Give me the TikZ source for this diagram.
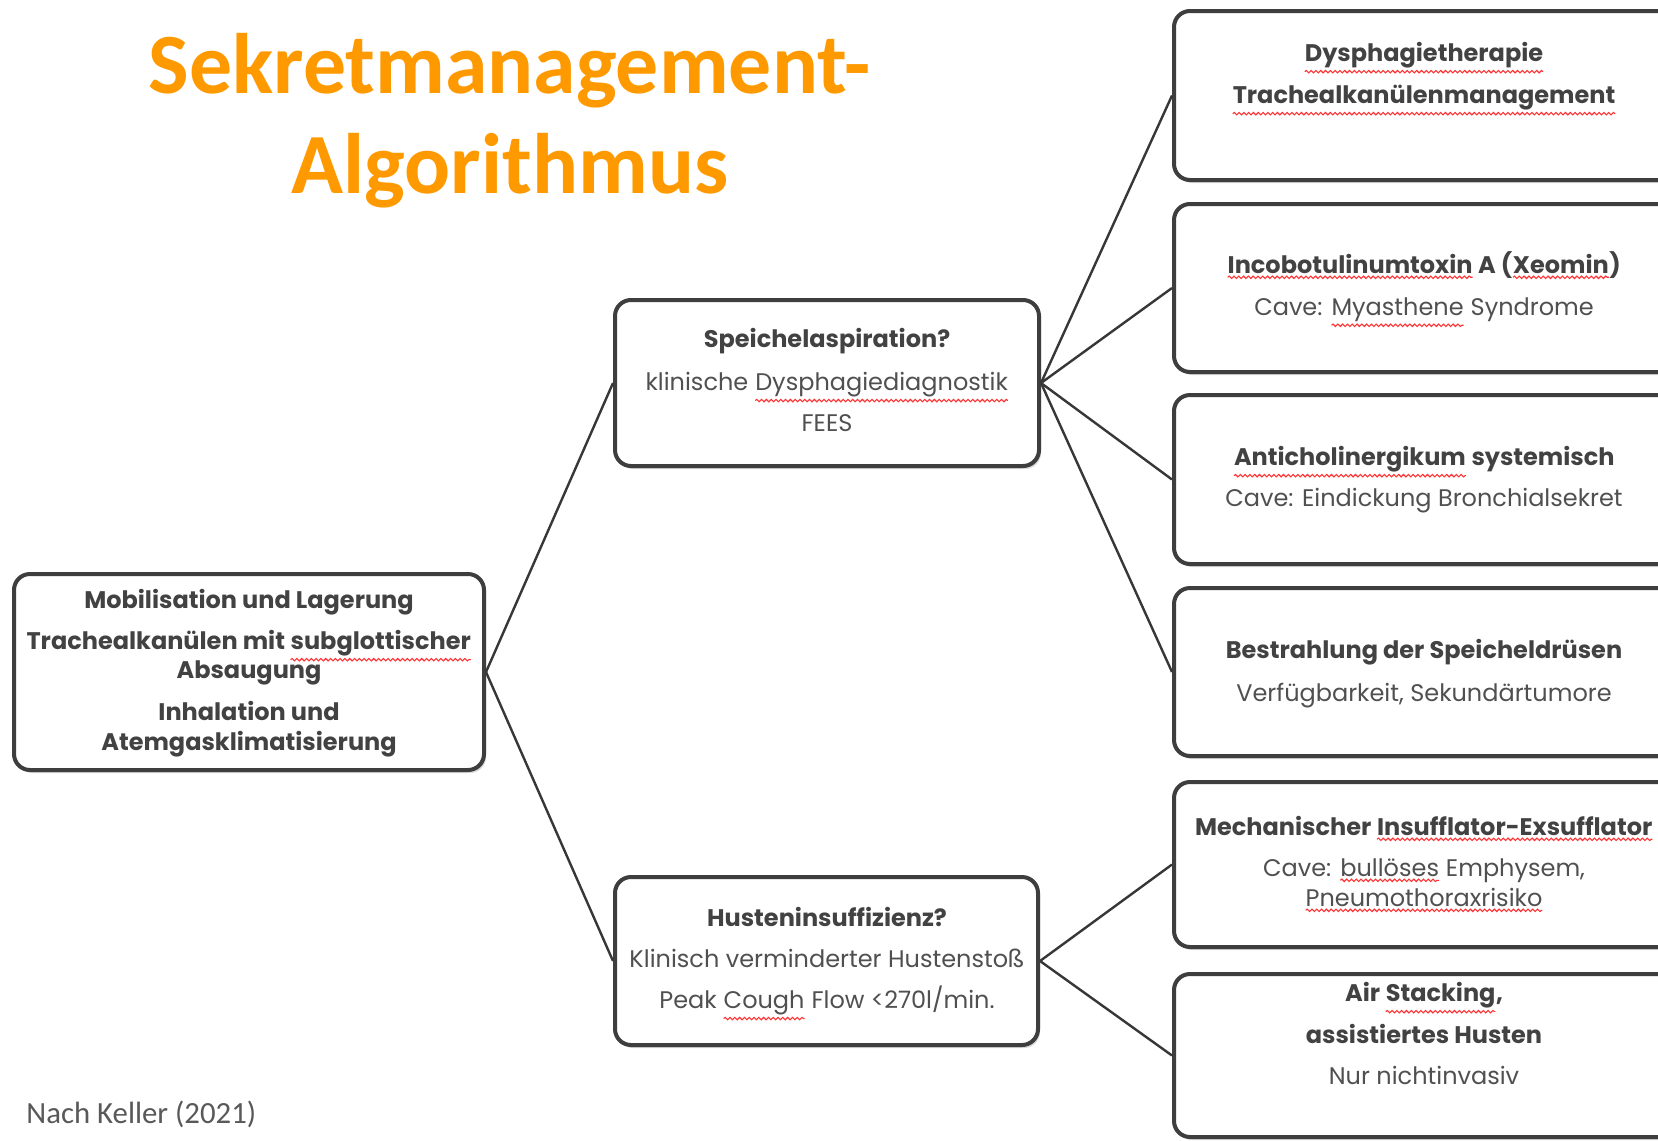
\documentclass[tikz,border=0pt]{standalone}
\usepackage{fontspec}
\setmainfont{Poppins}
\newfontfamily\titlefont{Carlito}
\usetikzlibrary{shadows,decorations.pathmorphing}
\definecolor{orng}{RGB}{255,153,0}
\definecolor{bord}{RGB}{62,62,62}
\definecolor{txt}{RGB}{66,66,66}
\definecolor{txtr}{RGB}{80,80,80}
\definecolor{conn}{RGB}{55,55,55}
\definecolor{foot}{RGB}{89,89,89}
\newcommand\sq[1]{\tikz[baseline=(sqw.base)]{\node[inner sep=0pt,outer sep=0pt](sqw){#1};\draw[red!80,line width=0.55pt,decorate,decoration={snake,amplitude=0.6pt,segment length=2.4pt}]([yshift=-1.8pt]sqw.south west)--([yshift=-1.8pt]sqw.south east);}}
\begin{document}
\begin{tikzpicture}[x=0.5pt,y=-0.5pt,
  box/.style={draw=bord,line width=2pt,rounded corners=8pt,fill=white,
    drop shadow={opacity=0.3,shadow xshift=1pt,shadow yshift=-1.5pt},inner sep=0pt},
  conn/.style={draw=conn,line width=1.2pt},
  bt/.style={font=\bfseries\fontsize{12}{14}\selectfont,text=txt,inner sep=0pt,anchor=mid},
  rt/.style={font=\fontsize{12}{14}\selectfont,text=txtr,inner sep=0pt,anchor=mid},
  ttl/.style={font=\titlefont\bfseries\fontsize{42.9}{50}\selectfont,text=orng,inner sep=0pt,anchor=mid}]
\useasboundingbox[fill=white] (0,0) rectangle (1658,1140);
\clip (0,0) rectangle (1658,1140);

% title
\node[ttl] (T1) at (510,88) {Sekretmanagement-};
\node[ttl] (T2) at (510,188) {Algorithmus};

% boxes
\node[box,minimum width=235pt,minimum height=98pt] (L) at (249,672) {};
\node[box,minimum width=212pt,minimum height=83pt] (S) at (827,383) {};
\node[box,minimum width=211.5pt,minimum height=84pt] (H) at (826.5,961) {};
\node[box,minimum width=251pt,minimum height=84.5pt] (R1) at (1425,95.5) {};
\node[box,minimum width=251pt,minimum height=84pt] (R2) at (1425,288) {};
\node[box,minimum width=251pt,minimum height=84.5pt] (R3) at (1425,479.5) {};
\node[box,minimum width=251pt,minimum height=84pt] (R4) at (1425,672) {};
\node[box,minimum width=251pt,minimum height=82.5pt] (R5) at (1425,864.5) {};
\node[box,minimum width=251pt,minimum height=81.5pt] (R6) at (1425,1055.5) {};

% connectors
\draw[conn] (L.east) -- (S.west);
\draw[conn] (L.east) -- (H.west);
\draw[conn] (S.east) -- (R1.west);
\draw[conn] (S.east) -- (R2.west);
\draw[conn] (S.east) -- (R3.west);
\draw[conn] (S.east) -- (R4.west);
\draw[conn] (H.east) -- (R5.west);
\draw[conn] (H.east) -- (R6.west);

% left box text
\node[bt] (l1) at (249,603) {Mobilisation und Lagerung};
\node[bt] (l2) at (249,644) {Trachealkanülen mit \sq{subglottischer}};
\node[bt] (l3) at (249,673) {Absaugung};
\node[bt] (l4) at (249,715) {Inhalation und};
\node[bt] (l5) at (249,745) {Atemgasklimatisierung};

% Speichel box text
\node[bt] (s1) at (827,342) {Speichelaspiration?};
\node[rt] (s2) at (827,385) {klinische \sq{Dysphagiediagnostik}};
\node[rt] (s3) at (827,426) {FEES};

% Husten box text
\node[bt] (h1) at (827,921) {Husteninsuffizienz?};
\node[rt] (h2) at (827,962) {Klinisch verminderter Hustenstoß};
\node[rt] (h3) at (827,1003) {Peak \sq{Cough} Flow <270l/min.};

% right boxes text
\node[bt] (r11) at (1424,56) {\sq{Dysphagietherapie}};
\node[bt] (r12) at (1424,98) {\sq{Trachealkanülenmanagement}};
\node[bt] (r21) at (1424,268) {\sq{Incobotulinumtoxin} A (\sq{Xeomin})};
\node[rt] (r22) at (1424,310) {Cave: \sq{Myasthene} Syndrome};
\node[bt] (r31) at (1424,460) {\sq{Anticholinergikum} systemisch};
\node[rt] (r32) at (1424,501) {Cave: Eindickung Bronchialsekret};
\node[bt] (r41) at (1424,653) {Bestrahlung der Speicheldrüsen};
\node[rt] (r42) at (1424,696) {Verfügbarkeit, Sekundärtumore};
\node[bt] (r51) at (1424,830) {Mechanischer \sq{Insufflator-Exsufflator}};
\node[rt] (r52) at (1424,871) {Cave: \sq{bullöses} Emphysem,};
\node[rt] (r53) at (1424,901) {\sq{Pneumothoraxrisiko}};
\node[bt] (r61) at (1424,996) {Air \sq{Stacking},};
\node[bt] (r62) at (1424,1038) {assistiertes Husten};
\node[rt] (r63) at (1424,1079) {Nur nichtinvasiv};

% footer
\node[font=\titlefont\fontsize{15.4}{18}\selectfont,text=foot,inner sep=0pt,anchor=base west] (F) at (26,1123) {Nach Keller (2021)};
\end{tikzpicture}
\end{document}
